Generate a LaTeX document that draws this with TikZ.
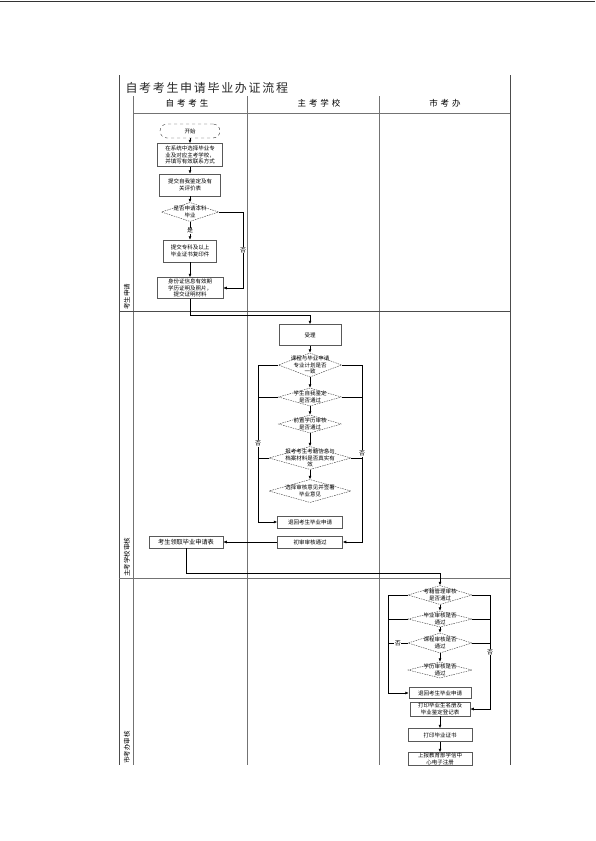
\documentclass[tikz,border=0pt]{standalone}
\usepackage{fontspec}
\usepackage{tikz}
\usetikzlibrary{shapes,arrows.meta,positioning}
\newfontfamily\cjk{Noto Sans CJK SC}
\newfontfamily\cjkwide[LetterSpace=35]{Noto Sans CJK SC}
\newfontfamily\cjktitle[LetterSpace=14]{Noto Sans CJK SC}

\begin{document}
\begin{tikzpicture}[x=1pt, y=-1pt, >={Latex[length=3.5pt,width=3pt]},
                   frame/.style={draw=black!70, line width=0.7pt},
                   lane/.style={draw=black!55, line width=0.5pt},
                   start/.style={rectangle, rounded corners=7pt, draw=black!80, dashed, line width=0.4pt,
                                 minimum width=60pt, minimum height=14pt, font=\cjk\fontsize{5.5}{6}\selectfont},
                   proc/.style={rectangle, draw=black!65, line width=0.5pt, inner sep=0.5pt, align=center,
                                font=\cjk\fontsize{5.5}{6.8}\selectfont},
                   decide/.style={diamond, draw=black!80, dash pattern=on 1.5pt off 1pt, line width=0.4pt, inner sep=0pt},
                   dtext/.style={inner sep=0pt, align=center, font=\cjk\fontsize{5.5}{6.5}\selectfont},
                   flow/.style={->, line width=0.6pt},
                   tag/.style={fill=white, inner sep=0.5pt, font=\cjk\fontsize{6}{6}\selectfont},
                   head/.style={font=\cjkwide\fontsize{8.5}{9}\selectfont},
                   rowtag/.style={rotate=90, anchor=west, inner sep=0pt, font=\cjk\fontsize{6.5}{7}\selectfont}]
  \useasboundingbox (0,0) rectangle (595,841);

  % frame and lanes
  \draw[black!80, line width=1pt] (0,1) -- (595,1);
  \draw[frame] (119,75) -- (119,765);
  \draw[frame] (510,75) -- (510,765);
  \draw[lane] (133,96) -- (133,765);
  \draw[lane] (247,96) -- (247,765);
  \draw[lane] (379,96) -- (379,765);
  \draw[lane] (133,113) -- (510,113);
  \draw[frame] (119,311) -- (510,311);
  \draw[lane] (119,578) -- (510,578);

  \node[anchor=west, text=black!85, font=\cjktitle\fontsize{12}{13}\selectfont] (title) at (122,88) {自考考生申请毕业办证流程};
  \node[head] (h1) at (187,103) {自考考生};
  \node[head] (h2) at (319,103) {主考学校};
  \node[head] (h3) at (445,103) {市考办};
  \node[rowtag] (row1) at (127,310) {考生申请};
  \node[rowtag] (row2) at (127,577) {主考学校审核};
  \node[rowtag] (row3) at (127,764) {市考办审核};

  % 自考考生
  \node[start] (start) at (190,131) {开始};
  \node[proc, minimum width=65pt, minimum height=23pt] (b1) at (190,155) {在系统中选择毕业专\\业及对应主考学校，\\并填写有效联系方式};
  \node[proc, minimum width=61pt, minimum height=22pt] (b2) at (190,185) {提交自我鉴定及有\\关评价表};
  \node[decide, minimum width=57pt, minimum height=19pt, label={[dtext]center:是否申请本科\\毕业}] (d1) at (190,212) {};
  \node[proc, minimum width=53pt, minimum height=22pt] (b3) at (190,251) {提交专科及以上\\毕业证书复印件};
  \node[proc, minimum width=66pt, minimum height=21pt] (b4) at (190,288) {身份证信息有效期\\学历证明及照片，\\提交证明材料};
  \node[proc, minimum width=74pt, minimum height=12pt, font=\cjk\fontsize{6.2}{7}\selectfont] (getform) at (186,542) {考生领取毕业申请表};

  \draw[flow] (start) -- (b1);
  \draw[flow] (b1) -- (b2);
  \draw[flow] (b2) -- (d1);
  \draw[flow] (d1) -- node[tag]{是} (b3);
  \draw[flow] (b3) -- (b4);
  \coordinate (no1) at (243,212);
  \draw[flow] (d1.east) -- (no1) -- node[tag]{否} (no1 |- b4.east) -- (b4.east);

  % 主考学校
  \coordinate (j1) at (310,315);
  \node[proc, minimum width=62pt, minimum height=21pt] (accept) at (310,335) {受理};
  \node[decide, minimum width=63pt, minimum height=24pt, label={[dtext]center:课程与毕业申请\\专业计划是否\\一致}] (d21) at (310,365) {};
  \node[decide, minimum width=63pt, minimum height=18pt, label={[dtext]center:学生自我鉴定\\是否通过}] (d22) at (310,397) {};
  \node[decide, minimum width=63pt, minimum height=18pt, label={[dtext]center:前置学历审核\\是否通过}] (d23) at (310,424) {};
  \node[decide, minimum width=82pt, minimum height=23pt, label={[dtext]center:报考考生考籍信息与\\档案材料是否真实有\\效}] (d24) at (310,458) {};
  \node[decide, minimum width=82pt, minimum height=23pt, label={[dtext]center:选择审核意见并签署\\毕业意见}] (d25) at (310,491) {};
  \node[proc, minimum width=65pt, minimum height=12pt] (back2) at (310,522) {退回考生毕业申请};
  \node[proc, minimum width=65pt, minimum height=12pt] (pass2) at (310,542) {初审审核通过};

  \draw[flow] (b4.south) |- (j1) -- (accept.north);
  \draw[flow] (accept) -- (d21);
  \draw[flow] (d21) -- (d22);
  \draw[flow] (d22) -- (d23);
  \draw[flow] (d23) -- (d24);
  \draw[flow] (d24) -- (d25);
  \coordinate (l2) at (258,365);
  \coordinate (r2) at (362,365);
  \draw[flow] (d21.west) -- (l2) -- node[tag]{否} (l2 |- back2.west) -- (back2.west);
  \draw[line width=0.6pt] (d22.west) -- (d22.west -| l2);
  \draw[line width=0.6pt] (d24.west) -- (d24.west -| l2);
  \draw[flow] (d21.east) -- (r2) -- node[tag]{否} (r2 |- pass2.east) -- (pass2.east);
  \draw[line width=0.6pt] (d22.east) -- (d22.east -| r2);
  \draw[line width=0.6pt] (d24.east) -- (d24.east -| r2);
  \draw[flow] (pass2) -- (getform);

  % 市考办
  \coordinate (j2) at (440,573);
  \node[decide, minimum width=64pt, minimum height=19pt, label={[dtext]center:考籍管理审核\\是否通过}] (da) at (440,595) {};
  \node[decide, minimum width=64pt, minimum height=16pt, label={[dtext]center:毕业审核是否\\通过}] (db) at (440,619) {};
  \node[decide, minimum width=64pt, minimum height=20pt, label={[dtext]center:课程审核是否\\通过}] (dc) at (440,643) {};
  \node[decide, minimum width=64pt, minimum height=16pt, label={[dtext]center:学历审核是否\\通过}] (dd) at (440,670) {};
  \node[proc, minimum width=62pt, minimum height=11pt] (back3) at (440,693) {退回考生毕业申请};
  \node[proc, minimum width=60pt, minimum height=14pt] (roster) at (440,709) {打印毕业生名册及\\毕业鉴定登记表};
  \node[proc, minimum width=64pt, minimum height=13pt] (printc) at (440,735) {打印毕业证书};
  \node[proc, minimum width=64pt, minimum height=13pt] (report) at (440,759) {上报教育部学信中\\心电子注册};

  \draw[flow] (getform.south) |- (j2) -- (da.north);
  \draw[flow] (da) -- (db);
  \draw[flow] (db) -- (dc);
  \draw[flow] (dc) -- (dd);
  \draw[flow] (roster) -- (printc);
  \draw[flow] (printc) -- (report);
  \coordinate (l3) at (388,595);
  \coordinate (r3) at (490,595);
  \draw[flow] (da.west) -- (l3) -- (l3 |- back3.west) -- (back3.west);
  \draw[line width=0.6pt] (db.west) -- (db.west -| l3);
  \draw[line width=0.6pt] (dc.west) -- node[tag]{否} (dc.west -| l3);
  \draw[flow] (da.east) -- (r3) -- node[tag]{否} (r3 |- roster.east) -- (roster.east);
  \draw[line width=0.6pt] (db.east) -- (db.east -| r3);
  \draw[line width=0.6pt] (dc.east) -- (dc.east -| r3);
\end{tikzpicture}
\end{document}
